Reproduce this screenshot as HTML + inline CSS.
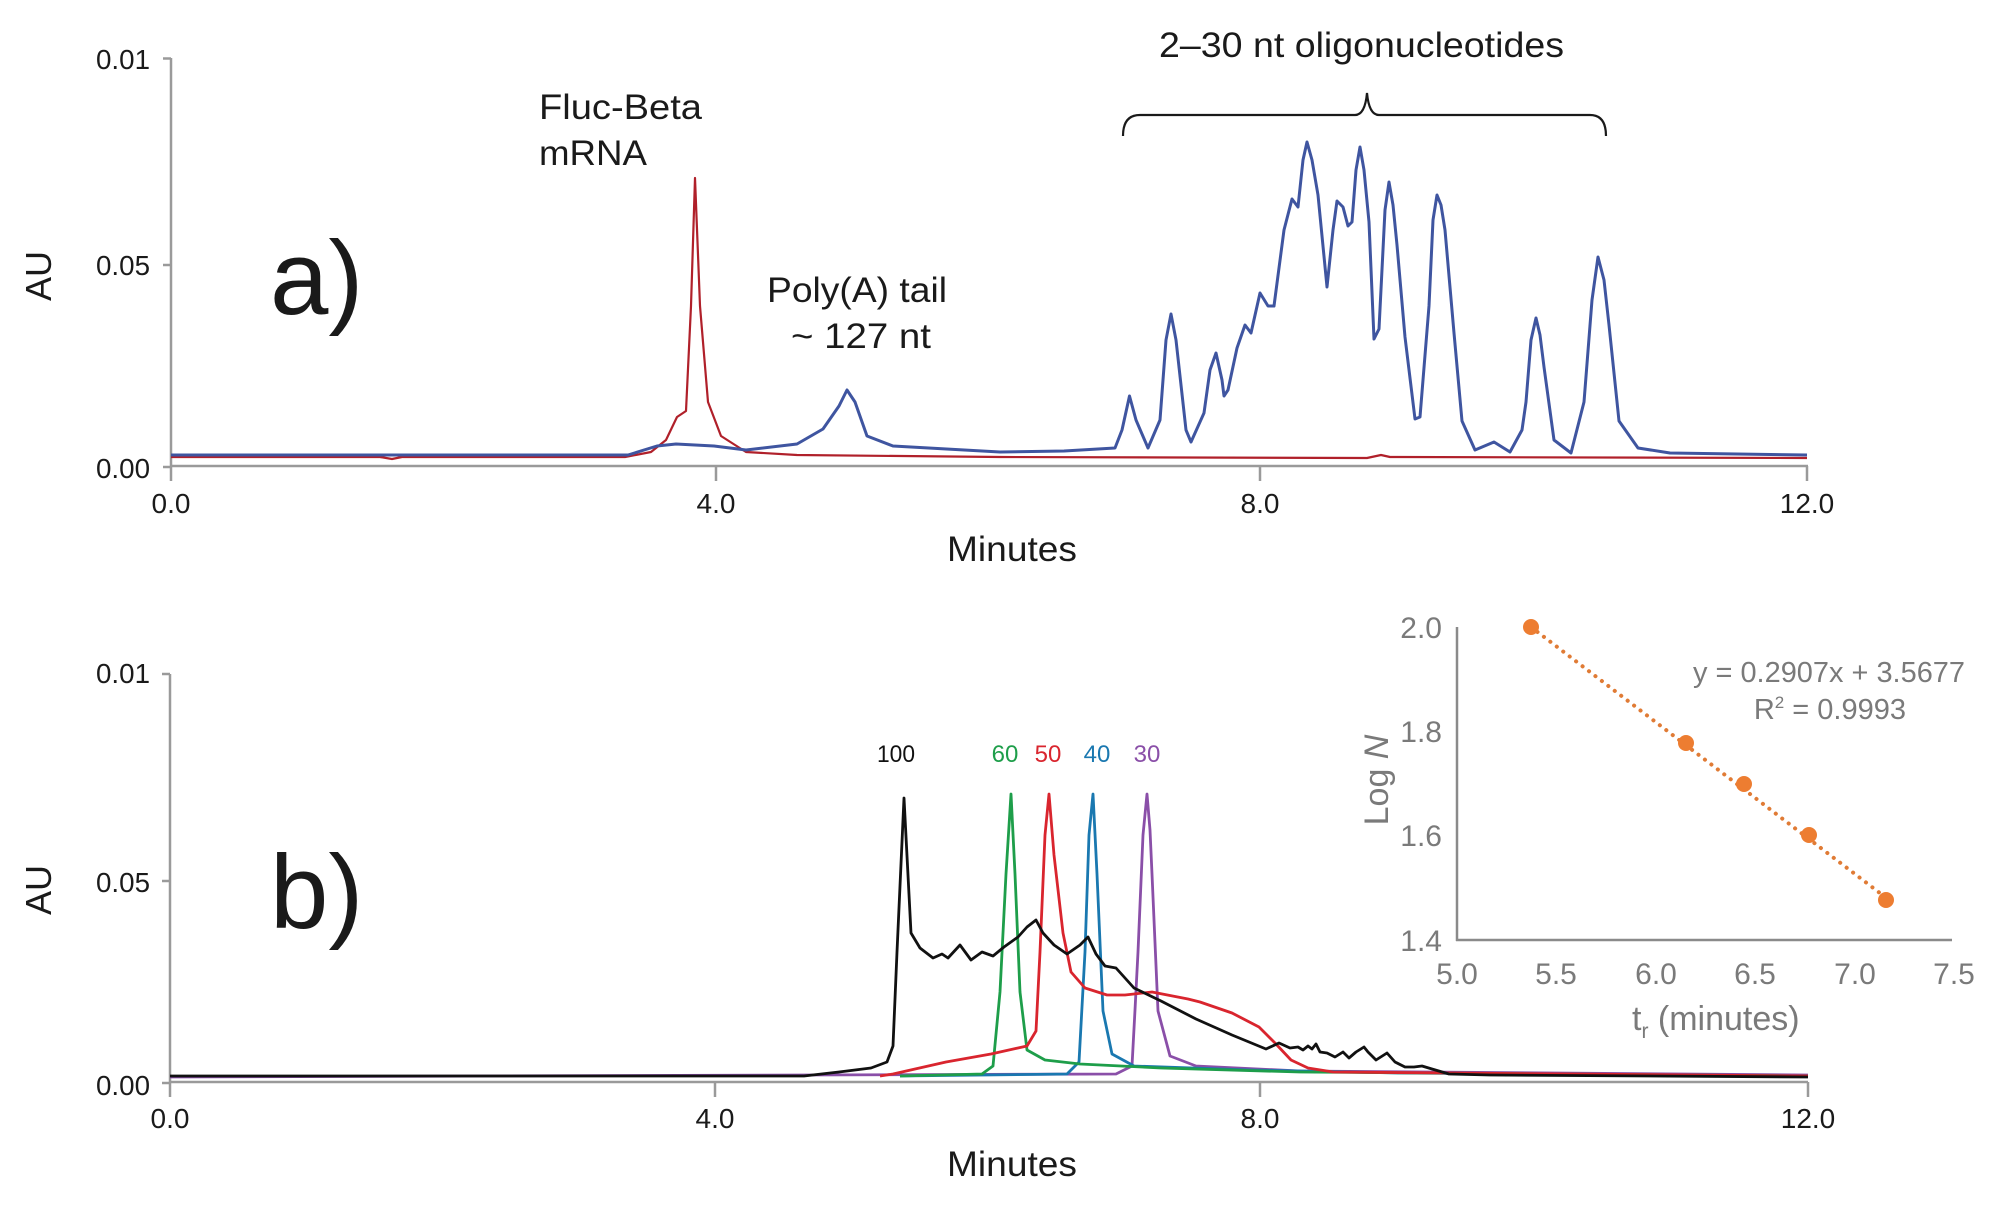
<!DOCTYPE html>
<html><head><meta charset="utf-8"><style>
html,body{margin:0;padding:0;background:#fff;}
svg{display:block;font-family:"Liberation Sans",Arial,sans-serif;}
</style></head><body>
<svg width="2000" height="1214" viewBox="0 0 2000 1214" xmlns="http://www.w3.org/2000/svg">
<rect width="2000" height="1214" fill="#fff"/>
<g stroke="#9a9a9a" stroke-width="2.5" fill="none">
<line x1="171" y1="58" x2="171" y2="467"/>
<line x1="171" y1="466" x2="1808" y2="466"/>
<line x1="163" y1="58.5" x2="171" y2="58.5"/>
<line x1="163" y1="265" x2="171" y2="265"/>
<line x1="163" y1="467" x2="171" y2="467"/>
<line x1="171" y1="466" x2="171" y2="481"/>
<line x1="716" y1="466" x2="716" y2="481"/>
<line x1="1260" y1="466" x2="1260" y2="481"/>
<line x1="1807" y1="466" x2="1807" y2="481"/>
</g>
<g font-size="28" fill="#1a1a1a">
<text x="150" y="69" text-anchor="end" textLength="54" lengthAdjust="spacingAndGlyphs">0.01</text>
<text x="150" y="275" text-anchor="end" textLength="54" lengthAdjust="spacingAndGlyphs">0.05</text>
<text x="150" y="478" text-anchor="end" textLength="54" lengthAdjust="spacingAndGlyphs">0.00</text>
<text x="171" y="513" text-anchor="middle">0.0</text>
<text x="716" y="513" text-anchor="middle">4.0</text>
<text x="1260" y="513" text-anchor="middle">8.0</text>
<text x="1807" y="513" text-anchor="middle">12.0</text>
</g>
<text x="1012" y="561" font-size="35" text-anchor="middle" fill="#1a1a1a" textLength="130" lengthAdjust="spacingAndGlyphs">Minutes</text>
<text transform="translate(51,276) rotate(-90)" font-size="36" text-anchor="middle" fill="#1a1a1a">AU</text>
<text x="270" y="314" font-size="105" fill="#1a1a1a">a)</text>
<g font-size="35" fill="#1a1a1a">
<text x="539" y="119" textLength="163" lengthAdjust="spacingAndGlyphs">Fluc-Beta</text>
<text x="539" y="165" textLength="108" lengthAdjust="spacingAndGlyphs">mRNA</text>
<text x="767" y="302" textLength="180" lengthAdjust="spacingAndGlyphs">Poly(A) tail</text>
<text x="791" y="348" textLength="140" lengthAdjust="spacingAndGlyphs">~ 127 nt</text>
<text x="1159" y="57" textLength="405" lengthAdjust="spacingAndGlyphs">2–30 nt oligonucleotides</text>
</g>
<path d="M1123,136 Q1123,115 1140,115 L1355,115 Q1365,115 1367,93 Q1369,115 1379,115 L1590,115 Q1606,115 1606,136" stroke="#1a1a1a" stroke-width="2.2" fill="none"/>
<polyline fill="none" stroke="#b0202a" stroke-width="2.2" stroke-linejoin="round" points="171,457 380,457 392,459 402,457 625,457 651,452 666,440 677,417 686,411 691,306 695,178 700,306 708,402 721,436 746,452 797,455 1000,457 1367,458 1381,455 1390,457 1807,458"/>
<polyline fill="none" stroke="#3f55a0" stroke-width="3" stroke-linejoin="round" points="171,455 628,455 657,446 676,444 714,446 746,450 797,444 823,429 839,406 847,390 855,402 867,436 893,446 1000,452 1064,451 1115,448 1122,430 1129.5,396 1136,420 1148,448 1160,420 1166,340 1171,314 1176,340 1186,430 1191,442 1204,413 1210,370 1216,353 1222,380 1224,396 1228,390 1237,348 1245,325 1251,333 1260,293 1268,306 1274,306 1284,230 1292,199 1298,207 1303,160 1307,142 1312,160 1318,195 1327,287 1333,230 1337,201 1343,207 1348,226 1352,222 1356,170 1360,147 1364,170 1369,222 1374,339 1379,329 1385,210 1389,182 1393,205 1397,245 1405,337 1415,419 1420,417 1429,306 1433,220 1437,195 1441,205 1445,230 1454,333 1462,421 1475,450 1494,442 1510,452 1522,430 1526,402 1531,340 1536,318 1540,335 1544,367 1554,440 1571,453 1584,402 1592,300 1598,257 1604,280 1609,325 1619,421 1638,448 1670,453 1807,455"/>

<g stroke="#9a9a9a" stroke-width="2.5" fill="none">
<line x1="170" y1="674" x2="170" y2="1083"/>
<line x1="170" y1="1082" x2="1808" y2="1082"/>
<line x1="162" y1="674" x2="170" y2="674"/>
<line x1="162" y1="881" x2="170" y2="881"/>
<line x1="162" y1="1083" x2="170" y2="1083"/>
<line x1="170" y1="1082" x2="170" y2="1097"/>
<line x1="715" y1="1082" x2="715" y2="1097"/>
<line x1="1260" y1="1082" x2="1260" y2="1097"/>
<line x1="1808" y1="1082" x2="1808" y2="1097"/>
</g>
<g font-size="28" fill="#1a1a1a">
<text x="150" y="683" text-anchor="end" textLength="54" lengthAdjust="spacingAndGlyphs">0.01</text>
<text x="150" y="892" text-anchor="end" textLength="54" lengthAdjust="spacingAndGlyphs">0.05</text>
<text x="150" y="1095" text-anchor="end" textLength="54" lengthAdjust="spacingAndGlyphs">0.00</text>
<text x="170" y="1128" text-anchor="middle">0.0</text>
<text x="715" y="1128" text-anchor="middle">4.0</text>
<text x="1260" y="1128" text-anchor="middle">8.0</text>
<text x="1808" y="1128" text-anchor="middle">12.0</text>
</g>
<text x="1012" y="1176" font-size="35" text-anchor="middle" fill="#1a1a1a" textLength="130" lengthAdjust="spacingAndGlyphs">Minutes</text>
<text transform="translate(51,890) rotate(-90)" font-size="36" text-anchor="middle" fill="#1a1a1a">AU</text>
<text x="270" y="928" font-size="105" fill="#1a1a1a">b)</text>
<g font-size="24" text-anchor="middle">
<text x="896" y="762" fill="#111" textLength="38" lengthAdjust="spacingAndGlyphs">100</text>
<text x="1005" y="762" fill="#1e9e4a">60</text>
<text x="1048" y="762" fill="#d9252e">50</text>
<text x="1097" y="762" fill="#1a78b0">40</text>
<text x="1147" y="762" fill="#8a4fa8">30</text>
</g>
<polyline fill="none" stroke="#8a4fa8" stroke-width="2.8" stroke-linejoin="round" points="170,1077 1116,1074 1132,1066 1135,1010 1138,952 1143,835 1147,794 1150,830 1152,874 1158,1011 1170,1056 1196,1066 1300,1071 1808,1075"/>
<polyline fill="none" stroke="#1a78b0" stroke-width="2.8" stroke-linejoin="round" points="900,1076 1067,1074 1079,1062 1085,952 1089,835 1093,794 1097,874 1103,1011 1112,1054 1134,1066 1250,1070 1400,1073 1808,1076"/>
<polyline fill="none" stroke="#1e9e4a" stroke-width="2.8" stroke-linejoin="round" points="900,1076 982,1074 993,1066 1000,992 1006,874 1011,794 1015,874 1020,992 1027,1050 1045,1060 1080,1064 1161,1068 1300,1072 1808,1076"/>
<polyline fill="none" stroke="#d9252e" stroke-width="2.8" stroke-linejoin="round" points="880,1076 893,1074 946,1062 991,1054 1027,1046 1036,1031 1040,952 1045,835 1049,794 1054,855 1063,933 1071,972 1085,988 1107,995 1125,995 1152,992 1188,999 1200,1002 1232,1013 1259,1027 1275,1043 1291,1060 1308,1068 1333,1072 1808,1076"/>
<polyline fill="none" stroke="#111" stroke-width="2.8" stroke-linejoin="round" points="170,1076 804,1076 839,1072 871,1068 887,1062 893,1046 897,952 904,798 911,933 920,948 933,958 942,954 948,958 960,945 971,960 982,952 993,956 1004,947 1018,937 1027,927 1036,920 1043,933 1054,945 1067,954 1080,945 1088,937 1096,954 1105,966 1116,968 1134,988 1161,1001 1196,1019 1232,1035 1266,1049 1279,1043 1290,1048 1298,1047 1303,1050 1308,1046 1312,1049 1316,1044 1320,1052 1327,1053 1335,1057 1343,1052 1349,1058 1356,1052 1364,1047 1368,1052 1376,1060 1387,1053 1395,1062 1405,1067 1414,1067 1422,1066 1432,1069 1449,1074 1490,1075 1808,1077"/>

<g stroke="#8a8a8a" stroke-width="2.5" fill="none">
<line x1="1457" y1="627" x2="1457" y2="941"/>
<line x1="1456" y1="940" x2="1952" y2="940"/>
</g>
<g font-size="30" fill="#7a7a7a">
<text x="1442" y="638" text-anchor="end">2.0</text>
<text x="1442" y="742" text-anchor="end">1.8</text>
<text x="1442" y="846" text-anchor="end">1.6</text>
<text x="1442" y="951" text-anchor="end">1.4</text>
<text x="1457" y="984" text-anchor="middle">5.0</text>
<text x="1556" y="984" text-anchor="middle">5.5</text>
<text x="1656" y="984" text-anchor="middle">6.0</text>
<text x="1755" y="984" text-anchor="middle">6.5</text>
<text x="1855" y="984" text-anchor="middle">7.0</text>
<text x="1954" y="984" text-anchor="middle">7.5</text>
</g>
<text x="1632" y="1030" font-size="34" fill="#7a7a7a">t<tspan font-size="21" dy="8">r</tspan><tspan dy="-8"> (minutes)</tspan></text>
<text transform="translate(1388,780) rotate(-90)" font-size="34" text-anchor="middle" fill="#7a7a7a">Log <tspan font-style="italic">N</tspan></text>
<text x="1965" y="682" font-size="29" text-anchor="end" fill="#7a7a7a" textLength="272" lengthAdjust="spacingAndGlyphs">y = 0.2907x + 3.5677</text>
<text x="1906" y="719" font-size="29" text-anchor="end" fill="#7a7a7a">R<tspan font-size="17" dy="-11">2</tspan><tspan dy="11"> = 0.9993</tspan></text>
<line x1="1531" y1="627" x2="1889" y2="900" stroke="#e07b35" stroke-width="4" stroke-dasharray="0.1 8" stroke-linecap="round"/>
<g fill="#ed7d31">
<circle cx="1531" cy="627" r="8"/>
<circle cx="1686" cy="743" r="8"/>
<circle cx="1744" cy="784" r="8"/>
<circle cx="1809" cy="835" r="8"/>
<circle cx="1886" cy="900" r="8"/>
</g>
</svg>
</body></html>
